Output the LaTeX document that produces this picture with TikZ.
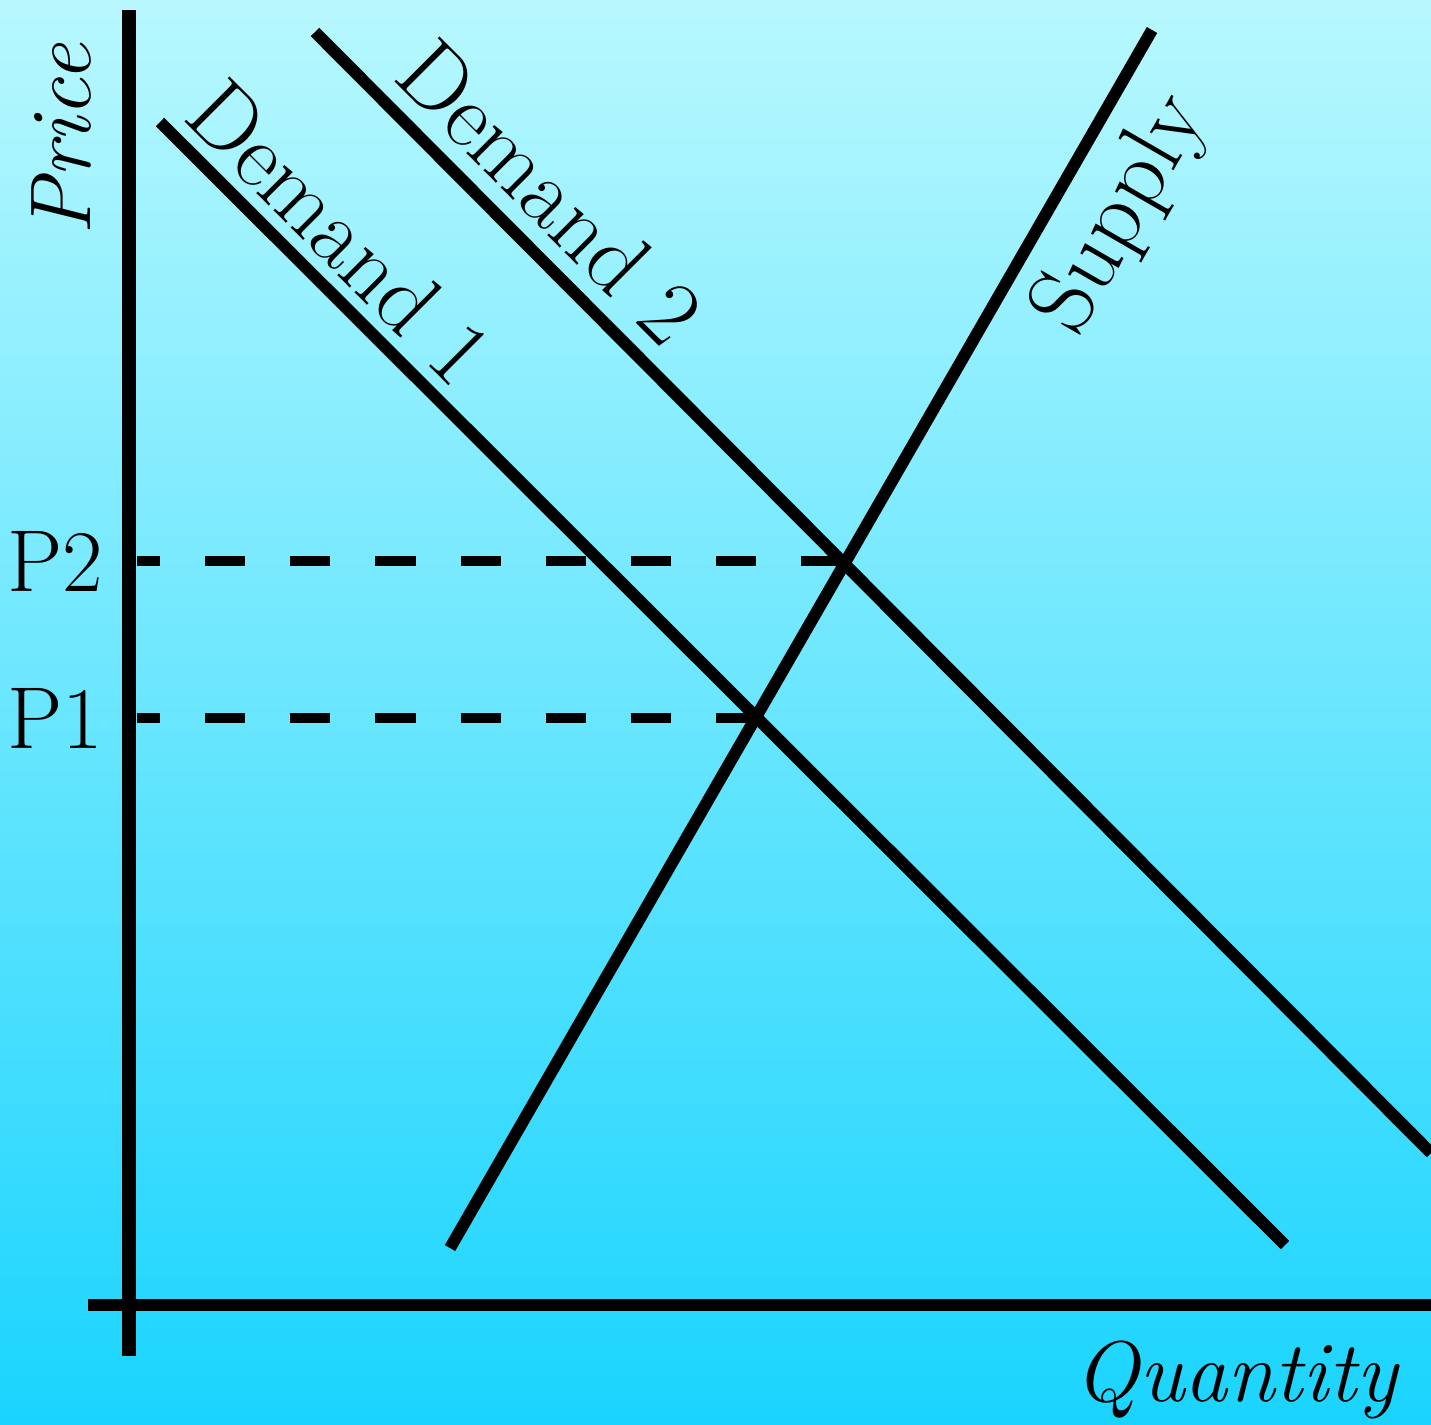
\documentclass[tikz,border=0pt]{standalone}
\usepackage{fontspec}
\definecolor{skytop}{RGB}{184, 248, 254}
\definecolor{skybottom}{RGB}{26, 212, 254}
\tikzset{
  curve/.style={line width=3.4pt},
  axis/.style={line width=3.8pt},
  guide/.style={line width=2.8pt, dash pattern=on 11.4pt off 12.8pt, dash phase=4.8pt},
  lbl/.style={inner sep=0pt, font=\fontsize{26.5}{30}\selectfont},
  axlbl/.style={inner sep=0pt, font=\fontsize{24.5}{30}\selectfont\itshape}
}

\begin{document}
\begin{tikzpicture}[x=0.01cm, y=-0.01cm]
    % background
    \shade[top color=skytop, bottom color=skybottom] (0,0) rectangle (1431,1424);
    \useasboundingbox (0,0) rectangle (1431,1424);
    % axes
    \coordinate (ytop) at (129,10);
    \coordinate (ybot) at (129,1356);
    \coordinate (xleft) at (88,1305);
    \coordinate (xright) at (1431,1305);
    \draw[axis] (ytop) -- (ybot);
    \draw[axis, line width=3.4pt] (xleft) -- (xright);
    \node[axlbl, rotate=90] (price) at (62,140) {Price};
    \node[axlbl] (qty) at (1236,1380) {Quantity};
    % demand and supply
    \coordinate (d1a) at (160,122);
    \coordinate (d1b) at (1285,1245);
    \coordinate (d2a) at (315,32);
    \coordinate (d2b) at (1431,1153);
    \coordinate (sa) at (450,1248);
    \coordinate (sb) at (1152,30);
    \draw[curve] (d1a) -- (d1b);
    \draw[curve] (d2a) -- (d2b);
    \draw[curve] (sa) -- (sb);
    \node[lbl, rotate=-45] (dem1) at (340,232) {Demand 1};
    \node[lbl, rotate=-45] (dem2) at (550,192) {Demand 2};
    \node[lbl, rotate=60] (sup) at (1122,215) {Supply};
    % equilibrium prices
    \coordinate (e1) at (756,718);
    \coordinate (e2) at (844,561);
    \coordinate (p1) at (137,718);
    \coordinate (p2) at (137,561);
    \draw[guide] (p1) -- (e1);
    \draw[guide] (p2) -- (e2);
    \node[lbl, font=\fontsize{25}{30}\selectfont, anchor=east] (lp1) at (104,718) {P1};
    \node[lbl, font=\fontsize{25}{30}\selectfont, anchor=east] (lp2) at (104,561) {P2};
\end{tikzpicture}
\end{document}
